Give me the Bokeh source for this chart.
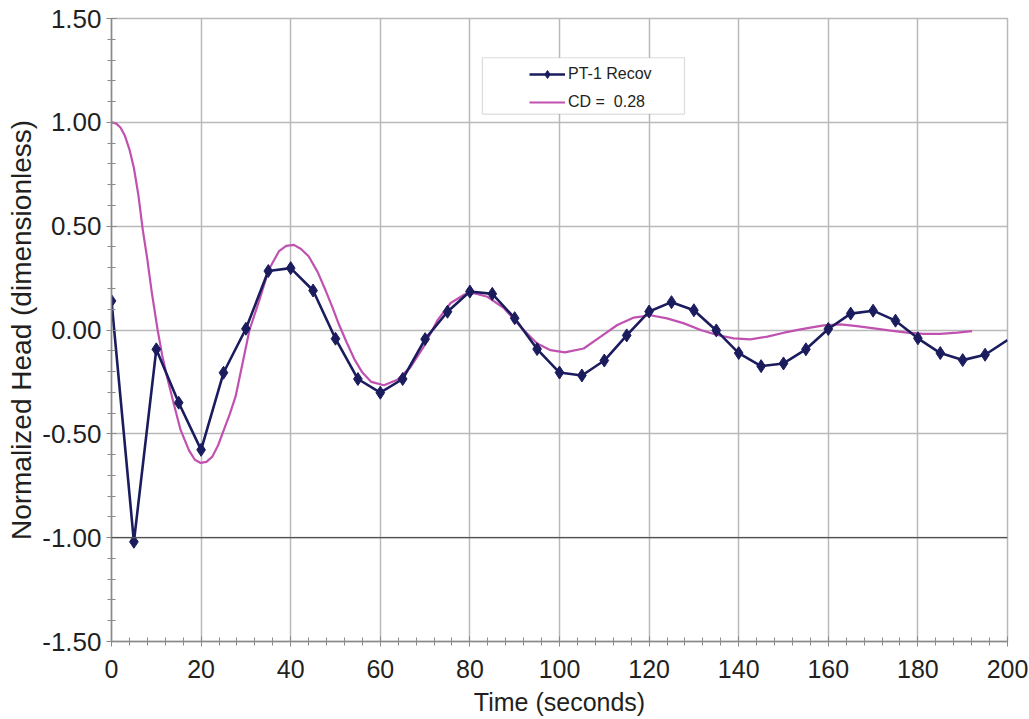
from bokeh.plotting import figure
from bokeh.models import (SingleIntervalTicker, NumeralTickFormatter, Legend, LegendItem,
                          BoxAnnotation, Span, Range1d)
from bokeh.embed import file_html
from bokeh.resources import INLINE

# ---- data: PT-1 recovery (measured) ----
pt_time = [0, 5, 10, 15, 20, 25, 30, 35, 40, 45, 50, 55, 60, 65, 70, 75, 80, 85, 90, 95,
           100, 105, 110, 115, 120, 125, 130, 135, 140, 145, 150, 155, 160, 165, 170, 175,
           180, 185, 190, 195, 200]
pt_head = [0.14, -1.02, -0.093, -0.35, -0.577, -0.206, 0.006, 0.284, 0.298, 0.19,
           -0.042, -0.236, -0.302, -0.236, -0.044, 0.088, 0.185, 0.174, 0.057, -0.092,
           -0.205, -0.219, -0.147, -0.026, 0.089, 0.134, 0.095, -0.002, -0.111, -0.174,
           -0.161, -0.093, 0.005, 0.079, 0.093, 0.045, -0.040, -0.111, -0.145, -0.119,
           -0.048]

# ---- data: type curve CD = 0.28 ----
cd_time = [0, 1, 2, 3, 4, 5, 6, 7, 8, 9, 10.3, 11.3, 12.4, 13.9, 15.4, 17.3, 18.6, 19.9,
           21.2, 22.5, 23.8, 25.1, 26.4, 27.7, 29.3, 30.8, 32.9, 35.1, 37.4, 39.0, 40.7,
           42.3, 44.0, 46.0, 47.8, 49.3, 50.7, 52.5, 54.2, 56.0, 58.0, 60.8, 63.8, 66.7,
           69.7, 72.7, 75.7, 78.7, 80.9, 83.9, 87.6, 91.3, 95.0, 98.0, 101.2, 105.4, 109.2,
           112.9, 116.6, 120.3, 124.0, 127.8, 131.5, 135.2, 138.9, 142.6, 146.4, 150.1,
           153.8, 157.0, 159.0, 162.7, 166.4, 170.2, 173.9, 177.6, 181.3, 185.0, 188.8, 192.1]
cd_head = [1.00, 0.995, 0.975, 0.935, 0.87, 0.78, 0.65, 0.48, 0.34, 0.18, 0.0, -0.12,
           -0.226, -0.355, -0.48, -0.58, -0.625, -0.64, -0.635, -0.61, -0.555, -0.48,
           -0.405, -0.32, -0.155, 0.0, 0.137, 0.29, 0.38, 0.405, 0.41, 0.39, 0.355, 0.28,
           0.19, 0.11, 0.03, -0.06, -0.14, -0.205, -0.25, -0.266, -0.24, -0.18, -0.08,
           0.045, 0.13, 0.17, 0.177, 0.16, 0.105, 0.016, -0.065, -0.097, -0.108, -0.089,
           -0.032, 0.024, 0.06, 0.071, 0.056, 0.032, 0.0, -0.024, -0.04, -0.045, -0.032,
           -0.013, 0.003, 0.015, 0.022, 0.027, 0.019, 0.008, -0.003, -0.013, -0.019,
           -0.019, -0.013, -0.005]

pt_label = "PT-1 Recov"
cd_label = "CD =  0.28"
x_title = "Time (seconds)"
y_title = "Normalized Head (dimensionless)"

NAVY = "#1b1c5e"
MAGENTA = "#c051b1"
GRID = "#b9b9b9"
TEXT = "#231f20"
FONT = "Liberation Sans"

p = figure(width=1029, height=719, output_backend="svg", toolbar_location=None,
           x_range=Range1d(0, 200), y_range=Range1d(-1.5, 1.5),
           min_border_left=111, min_border_right=22, min_border_top=18, min_border_bottom=78)
p.background_fill_color = "white"
p.border_fill_color = "white"
p.outline_line_color = GRID
p.outline_line_width = 1.5

xt = SingleIntervalTicker(interval=20, num_minor_ticks=5)
yt = SingleIntervalTicker(interval=0.5, num_minor_ticks=5)
p.xaxis.ticker = xt
p.yaxis.ticker = yt
p.xgrid.ticker = xt
p.ygrid.ticker = yt
p.yaxis.formatter = NumeralTickFormatter(format="0.00")

for g in (p.xgrid, p.ygrid):
    g.grid_line_color = GRID
    g.grid_line_width = 1.5

for ax in (p.xaxis, p.yaxis):
    ax.axis_line_color = "#8a8a8a"
    ax.axis_line_width = 1.5
    ax.major_tick_line_color = "#8a8a8a"
    ax.minor_tick_line_color = "#8a8a8a"
    ax.major_tick_in = 5
    ax.major_tick_out = 5
    ax.minor_tick_in = 4
    ax.minor_tick_out = 4
    ax.major_label_text_font = FONT
    ax.axis_label_text_font = FONT
    ax.major_label_text_color = TEXT
    ax.axis_label_text_color = TEXT
    ax.axis_label_text_font_style = "normal"

p.yaxis.axis_label = y_title
p.xaxis.axis_label = x_title
p.yaxis.major_label_text_font_size = "26px"
p.xaxis.major_label_text_font_size = "25px"
p.yaxis.axis_label_text_font_size = "28px"
p.xaxis.axis_label_text_font_size = "25px"
p.yaxis.major_label_standoff = 5
p.xaxis.major_label_standoff = 13
p.yaxis.axis_label_standoff = 2
p.xaxis.axis_label_standoff = 7

p.add_layout(Span(location=-1.0, dimension="width", line_color="#505050", line_width=1.2))

r_cd = p.line(cd_time, cd_head, line_color=MAGENTA, line_width=2.2)
r_pt_line = p.line(pt_time, pt_head, line_color=NAVY, line_width=2.6)
r_pt_mark = p.scatter(pt_time[:-1], pt_head[:-1], marker="diamond", size=13,
                      fill_color=NAVY, line_color=NAVY)

p.add_layout(BoxAnnotation(left=82.8, right=127.9, bottom=1.040, top=1.311,
                           fill_color="white", fill_alpha=1.0,
                           line_color="#8a8a8a", line_width=1.2, level="overlay"))

legend = Legend(items=[LegendItem(label=pt_label, renderers=[r_pt_line, r_pt_mark]),
                       LegendItem(label=cd_label, renderers=[r_cd])],
                location=(418, 529), padding=0, margin=0, spacing=8,
                glyph_width=36, glyph_height=20, label_height=20,
                label_standoff=3, label_text_font=FONT, label_text_font_size="16px",
                label_text_color=TEXT, border_line_color=None,
                background_fill_alpha=0.0)
p.add_layout(legend, "center")

open("out.html", "w").write(file_html(p, INLINE))
